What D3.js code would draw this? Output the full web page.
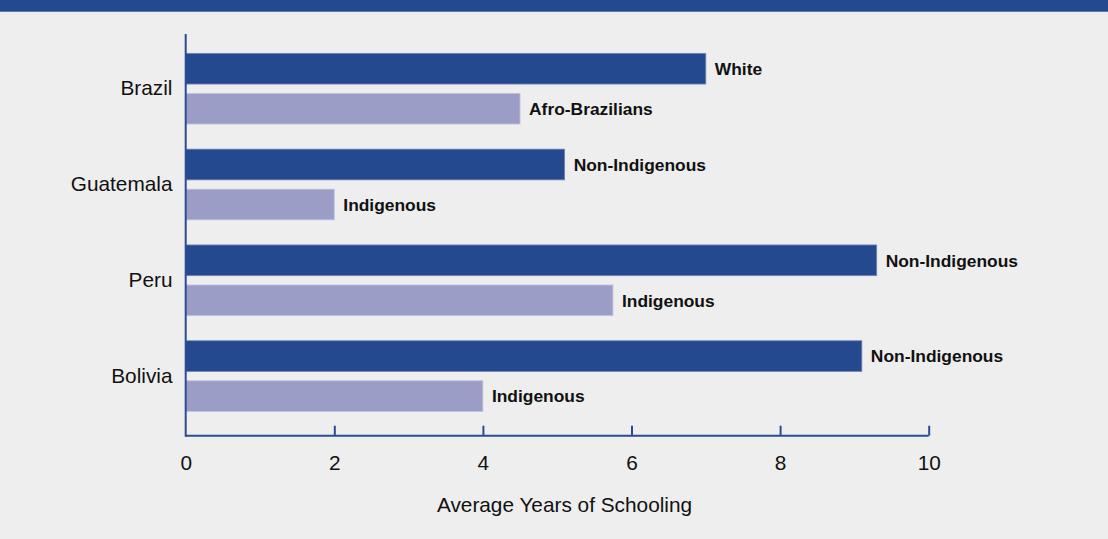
<!DOCTYPE html>
<html>
<head>
<meta charset="utf-8">
<script src="https://cdn.jsdelivr.net/npm/d3@7"></script>
<style>
  html, body { margin: 0; padding: 0; background: #eeeeee; }
  svg { display: block; font-family: Arial, "Liberation Sans", sans-serif; }
</style>
</head>
<body>
<svg id="chart" width="1108" height="539"></svg>
<script>
// Average years of schooling by country and population group
const countries = ["Brazil", "Guatemala", "Peru", "Bolivia"];
const majorityLabels = ["White", "Non-Indigenous", "Non-Indigenous", "Non-Indigenous"];
const minorityLabels = ["Afro-Brazilians", "Indigenous", "Indigenous", "Indigenous"];
const majorityValues = [7.0, 5.1, 9.3, 9.1];
const minorityValues = [4.5, 2.0, 5.75, 4.0];
const xTicks = [0, 2, 4, 6, 8, 10];
const xTitle = "Average Years of Schooling";

const darkBlue = "#24498e";
const lightPurple = "#9b9dc7";
const axisColor = "#2b4c91";

const svg = d3.select("#chart");
const W = 1108, H = 539;

svg.append("rect").attr("width", W).attr("height", H).attr("fill", "#eeeeee");
svg.append("rect").attr("width", W).attr("height", 11.7).attr("fill", darkBlue);

const x = d3.scaleLinear().domain([0, 10]).range([185.7, 928.7]);
const y = d3.scaleBand().domain(countries).range([40.8, 424])
  .paddingInner(0.262).paddingOuter(0.131);
const sub = d3.scaleBand().domain(["major", "minor"]).range([0, y.bandwidth()])
  .paddingInner(0.2325).paddingOuter(0);

const rows = countries.map((c, i) => ([
  { country: c, key: "major", value: majorityValues[i], label: majorityLabels[i], color: darkBlue, stroke: "#6f86b8" },
  { country: c, key: "minor", value: minorityValues[i], label: minorityLabels[i], color: lightPurple, stroke: "#c3c5e0" }
])).flat();

// bars
svg.append("g").selectAll("rect").data(rows).join("rect")
  .attr("x", x(0))
  .attr("y", d => y(d.country) + sub(d.key))
  .attr("width", d => x(d.value) - x(0))
  .attr("height", sub.bandwidth())
  .attr("fill", d => d.color)
  .attr("stroke", d => d.stroke)
  .attr("stroke-width", 0.8);

// group labels at bar ends
svg.append("g").selectAll("text").data(rows).join("text")
  .attr("x", d => x(d.value) + 9)
  .attr("y", d => y(d.country) + sub(d.key) + sub.bandwidth() / 2)
  .attr("dy", "0.36em")
  .attr("font-size", 17.4)
  .attr("font-weight", "bold")
  .attr("fill", "#111")
  .text(d => d.label);

// x axis
const xAxis = d3.axisBottom(x).tickValues(xTicks).tickSize(-10).tickPadding(0).tickFormat(d3.format("d"));
const gx = svg.append("g").attr("transform", `translate(0,${435.7})`).call(xAxis);
gx.select(".domain").attr("stroke", axisColor).attr("stroke-width", 2).attr("d", `M${x(0)},0H${x(10)}`);
gx.selectAll(".tick line").attr("stroke", axisColor).attr("stroke-width", 2);
gx.selectAll(".tick").filter(d => d === 0).select("line").remove();
gx.selectAll(".tick text")
  .attr("y", 34).attr("dy", null)
  .attr("font-size", 20.8).attr("fill", "#111");

// y axis line
svg.append("line")
  .attr("x1", x(0)).attr("x2", x(0))
  .attr("y1", 34).attr("y2", 436.7)
  .attr("stroke", axisColor).attr("stroke-width", 2);

// category labels
svg.append("g").selectAll("text").data(countries).join("text")
  .attr("x", 172.5)
  .attr("y", d => y(d) + y.bandwidth() / 2)
  .attr("dy", "0.32em")
  .attr("text-anchor", "end")
  .attr("font-size", 20.8)
  .attr("fill", "#111")
  .text(d => d);

// axis title
svg.append("text")
  .attr("x", 564.5).attr("y", 512)
  .attr("text-anchor", "middle")
  .attr("font-size", 20.8)
  .attr("fill", "#111")
  .text(xTitle);
</script>
</body>
</html>
